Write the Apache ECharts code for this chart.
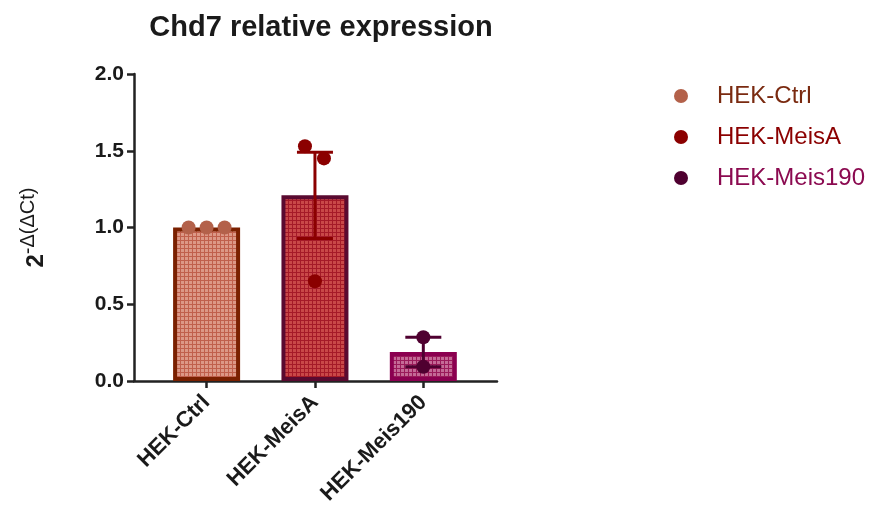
<!DOCTYPE html>
<html><head><meta charset="utf-8">
<script src="https://cdn.jsdelivr.net/npm/echarts@6/dist/echarts.min.js"></script>
<style>html,body{margin:0;padding:0;background:#fff}#c{width:869px;height:513px}</style>
</head><body><div id="c"></div>
<script>
// ---- data ----
var categories = ['HEK-Ctrl', 'HEK-MeisA', 'HEK-Meis190'];
var ctrlValues = [1.0, 1.0, 1.0];
var meisAValues = [1.53, 1.45, 0.65];
var meis190Values = [0.285, 0.093];
var yTicks = [0, 0.5, 1.0, 1.5, 2.0];

// ---- styles ----
var pointColors = ['#b3614a', '#8b0000', '#4f0030'];
var legendTextColors = ['#7a2a10', '#8b0000', '#8b0a50'];
var barBg = ['#dc9886', '#c94848', '#c46a96'];
var barLine = ['#c0604c', '#a51a28', '#9a1a5a'];
var barBorder = ['#7a2000', '#5a0a30', '#8b0050'];
var jitterPx = [[-18, 0, 18], [-10, 9, 0], [0, 0]];

function pattern(bg, line) {
  var c = document.createElement('canvas');
  c.width = 4; c.height = 4;
  var g = c.getContext('2d');
  g.fillStyle = bg; g.fillRect(0, 0, 4, 4);
  g.fillStyle = line;
  g.fillRect(0, 0, 4, 1);
  g.fillRect(0, 0, 1, 4);
  return { image: c, repeat: 'repeat' };
}

var groups = [ctrlValues, meisAValues, meis190Values];
function mean(a) { return a.reduce(function (s, v) { return s + v; }, 0) / a.length; }
function sem(a) {
  var m = mean(a);
  var ss = a.reduce(function (s, v) { return s + (v - m) * (v - m); }, 0);
  return Math.sqrt(ss / (a.length - 1)) / Math.sqrt(a.length);
}

var barData = groups.map(function (g, i) {
  return {
    value: [i, mean(g)],
    itemStyle: { color: pattern(barBg[i], barLine[i]), borderColor: barBorder[i], borderWidth: 4 }
  };
});
var errData = groups.map(function (g, i) {
  var m = mean(g), s = sem(g);
  return { value: [i, m - s, m + s], itemStyle: { color: pointColors[i] } };
});

var series = [{
  type: 'bar', data: barData, barWidth: 67, silent: true, z: 1
}, {
  type: 'custom', z: 3,
  data: errData,
  renderItem: function (params, api) {
    var x = api.value(0);
    var lo = api.coord([x, api.value(1)]);
    var hi = api.coord([x, api.value(2)]);
    var col = pointColors[params.dataIndex];
    if (Math.abs(lo[1] - hi[1]) < 0.5) return null;
    var hw = 18;
    var st = { stroke: col, lineWidth: 3 };
    return { type: 'group', children: [
      { type: 'line', shape: { x1: lo[0], y1: lo[1], x2: hi[0], y2: hi[1] }, style: st },
      { type: 'line', shape: { x1: lo[0] - hw, y1: lo[1], x2: lo[0] + hw, y2: lo[1] }, style: st },
      { type: 'line', shape: { x1: hi[0] - hw, y1: hi[1], x2: hi[0] + hw, y2: hi[1] }, style: st }
    ]};
  }
}];
groups.forEach(function (g, i) {
  series.push({
    type: 'scatter', name: categories[i], z: 4,
    symbol: 'circle', symbolSize: 14,
    itemStyle: { color: pointColors[i], opacity: 1 },
    data: g.map(function (v, j) {
      return { value: [i, v], symbolOffset: [jitterPx[i][j], 0] };
    })
  });
});

var chart = echarts.init(document.getElementById('c'), null, { renderer: 'canvas' });
chart.setOption({
  animation: false,
  backgroundColor: '#fff',
  title: {
    text: 'Chd7 relative expression', left: 316, top: 8, textAlign: 'center',
    textStyle: { fontFamily: 'Liberation Sans', fontWeight: 'bold', fontSize: 29, color: '#1a1a1a' }
  },
  legend: {
    orient: 'vertical', left: 669, top: 79, itemGap: 17,
    icon: 'circle', itemWidth: 14, itemHeight: 14,
    textStyle: { fontFamily: 'Liberation Sans', fontSize: 24, padding: [0, 0, 0, 24] },
    data: categories.map(function (c, i) {
      return { name: c, textStyle: { color: legendTextColors[i] } };
    })
  },
  grid: { left: 134, right: 372, top: 74, bottom: 132, containLabel: false },
  xAxis: {
    type: 'value', min: -0.67, max: 2.68,
    splitLine: { show: false },
    axisLine: { show: true, onZero: false, lineStyle: { color: '#222', width: 2.5 } },
    axisTick: { show: true, length: 7, inside: false, customValues: [0, 1, 2], lineStyle: { color: '#222', width: 2.5 } },
    axisLabel: {
      customValues: [0, 1, 2], rotate: 45, margin: 18,
      fontFamily: 'Liberation Sans', fontWeight: 'bold', fontSize: 22, color: '#1a1a1a',
      formatter: function (v) { return categories[Math.round(v)] || ''; }
    }
  },
  yAxis: {
    type: 'value', min: 0, max: 2, interval: 0.5,
    splitLine: { show: false },
    axisLine: { show: true, onZero: false, lineStyle: { color: '#222', width: 2.5 } },
    axisTick: { show: true, length: 7, lineStyle: { color: '#222', width: 2.5 } },
    axisLabel: {
      margin: 10, fontFamily: 'Liberation Sans', fontWeight: 'bold', fontSize: 21, color: '#1a1a1a',
      formatter: function (v) { return v.toFixed(1); }
    },
    name: '{a|2}{b|-Δ(ΔCt)}', nameLocation: 'middle', nameGap: 86, nameRotate: 90,
    nameTextStyle: {
      rich: {
        a: { fontFamily: 'Liberation Sans', fontWeight: 'bold', fontSize: 24, color: '#1a1a1a', verticalAlign: 'bottom', lineHeight: 30 },
        b: { fontFamily: 'Liberation Sans', fontSize: 20, color: '#1a1a1a', verticalAlign: 'top', lineHeight: 22 }
      }
    }
  },
  series: series
});
</script></body></html>
